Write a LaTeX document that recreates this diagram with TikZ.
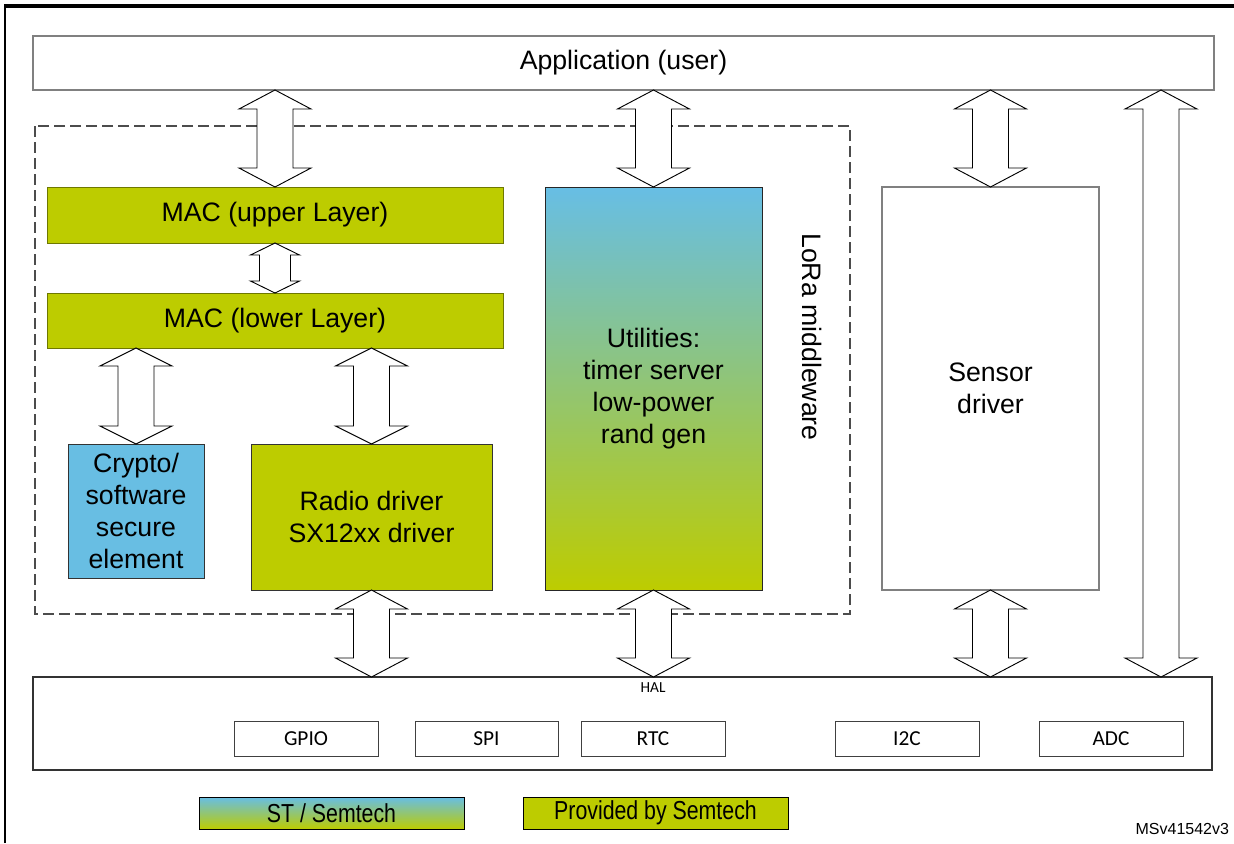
\documentclass[tikz,border=0pt]{standalone}
\usepackage{fontspec}
\setmainfont{Liberation Sans}
\newfontfamily\calfont{Carlito}
\newfontfamily\narrowfont[FakeStretch=0.82]{Liberation Sans}
\usetikzlibrary{calc}

\definecolor{semgreen}{RGB}{189,204,0}
\definecolor{stblue}{RGB}{104,190,227}
\definecolor{gradtop}{RGB}{103,190,229}
\definecolor{edgegreen}{RGB}{110,120,0}
\definecolor{framegray}{RGB}{128,128,128}

% double-headed block arrow between two points (top, bottom)
% #3 head half width, #4 shaft half width, #5 head length (all in px units)
\newcommand{\dblarrow}[5]{%
  \draw[blockarrow] let \p1=(#1), \p2=(#2) in
    (\x1,\y1) -- (\x1+#3*0.75pt,\y1-#5*0.75pt) -- (\x1+#4*0.75pt,\y1-#5*0.75pt)
    -- (\x1+#4*0.75pt,\y2+#5*0.75pt) -- (\x1+#3*0.75pt,\y2+#5*0.75pt)
    -- (\x1,\y2) -- (\x1-#3*0.75pt,\y2+#5*0.75pt) -- (\x1-#4*0.75pt,\y2+#5*0.75pt)
    -- (\x1-#4*0.75pt,\y1-#5*0.75pt) -- (\x1-#3*0.75pt,\y1-#5*0.75pt) -- cycle;}

\begin{document}
\begin{tikzpicture}[x=0.75pt,y=-0.75pt,
  every node/.style={inner sep=0pt, outer sep=0pt},
  bsize/.style 2 args={minimum width=#1*0.75pt, minimum height=#2*0.75pt},
  mainfs/.style={font=\fontsize{20}{24}\selectfont, align=center},
  whitebox/.style={draw=framegray, line width=1pt, fill=white, anchor=north west, mainfs},
  greenbox/.style={draw=edgegreen, line width=0.6pt, fill=semgreen, anchor=north west, mainfs},
  bluebox/.style={draw=black!80, line width=0.6pt, fill=stblue, anchor=north west, mainfs},
  gradbox/.style={draw=black!85, line width=0.6pt, top color=gradtop, bottom color=semgreen, anchor=north west, mainfs},
  periph/.style={draw=black!75, line width=0.6pt, fill=white, anchor=north west, bsize={144}{35},
    font=\calfont\fontsize{16}{18}\selectfont},
  legendbox/.style={draw=black, line width=0.6pt, anchor=north west, bsize={265}{32},
    font=\narrowfont\fontsize{19.5}{22}\selectfont},
  blockarrow/.style={draw=black, line width=0.7pt, fill=white, line join=miter}]

\useasboundingbox (0,0) rectangle (1234,843);

% outer frame
\draw[line width=1.6pt] (5,843) -- (5,6);
\draw[line width=2.4pt] (4,6) -- (1234,6);

% LoRa middleware group
\draw[dashed, dash pattern=on 8pt off 4pt, draw=black!70, line width=0.8pt] (35,126) rectangle (850,614);
\node[rotate=-90, font=\fontsize{20}{24}\selectfont] (lora) at (812,337) {LoRa middleware};

% blocks
\node[whitebox, bsize={1181}{54}] (app) at (33,36) {Application (user)};
\node[greenbox, bsize={456}{56}] (macU) at (47,187) {MAC (upper Layer)};
\node[greenbox, bsize={456}{55}] (macL) at (47,293) {MAC (lower Layer)};
\node[bluebox, bsize={136}{134}] (crypto) at (68,444) {Crypto/\\software\\secure\\element};
\node[greenbox, draw=black!80, bsize={241}{146}] (radio) at (251,444) {Radio driver\\SX12xx driver};
\node[gradbox, bsize={217}{403}] (util) at (545,187) {Utilities:\\timer server\\low-power\\rand gen};
\node[whitebox, bsize={217}{403}] (sensor) at (882,187) {Sensor\\driver};

% HAL
\node[draw=black!80, line width=0.8pt, fill=white, anchor=north west, bsize={1179}{93}] (hal) at (33,677) {};
\node[font=\calfont\fontsize{11.5}{13}\selectfont] (hallbl) at (653,688) {HAL};
\node[periph] (gpio) at (234,721) {GPIO};
\node[periph, bsize={143}{35}] (spi) at (415,721) {SPI};
\node[periph] (rtc) at (581,721) {RTC};
\node[periph] (i2c) at (835,721) {I2C};
\node[periph] (adc) at (1039,721) {ADC};

% connectors
\coordinate (rx) at (1161,0);
\dblarrow{macU.north |- app.south}{macU.north}{36}{18}{19}
\dblarrow{macU.south}{macL.north}{24.5}{15.5}{12}
\dblarrow{crypto.north |- macL.south}{crypto.north}{36}{18}{18}
\dblarrow{radio.north |- macL.south}{radio.north}{36}{18}{18}
\dblarrow{util.north |- app.south}{util.north}{36}{18}{19}
\dblarrow{sensor.north |- app.south}{sensor.north}{36}{18}{19}
\dblarrow{rx |- app.south}{rx |- hal.north}{36}{18}{19}
\dblarrow{radio.south}{hal.north -| radio.south}{36}{18}{19}
\dblarrow{util.south}{hal.north -| util.south}{36}{18}{19}
\dblarrow{sensor.south}{hal.north -| sensor.south}{36}{18}{19}

% legend
\node[legendbox, top color=gradtop, bottom color=semgreen] (legST) at (199,797) {ST / Semtech};
\node[legendbox, fill=semgreen] (legSem) at (523,797) {Provided by Semtech};
\node[anchor=base east, font=\fontsize{12}{14}\selectfont] (docid) at (1229,834) {MSv41542v3};

\end{tikzpicture}
\end{document}
